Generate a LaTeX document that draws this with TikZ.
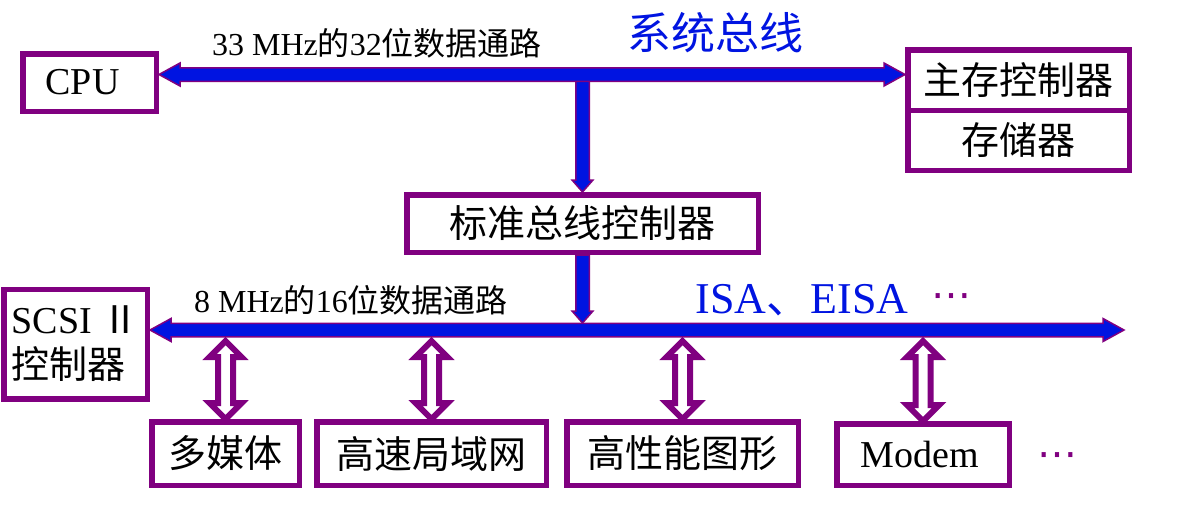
\documentclass[tikz,border=0pt]{standalone}
\usepackage{fontspec}
\setmainfont{Liberation Serif}
\newfontfamily\cjk{Noto Sans CJK SC}
\newfontfamily\dotfont{DejaVu Sans}
\usepackage{tikz}
\usetikzlibrary{calc,positioning,backgrounds}
\definecolor{edgepurple}{RGB}{128,0,128}
\definecolor{busblue}{RGB}{0,20,225}
\newcommand{\zh}[1]{{\cjk #1}}

\begin{document}
\begin{tikzpicture}[x=1pt,y=-1pt,
  unit/.style={draw=edgepurple,line width=5.5pt,fill=white,inner sep=0pt,font=\fontsize{38}{45}\selectfont},
  bus/.style={draw=edgepurple,line width=1.5pt,fill=busblue,line join=miter},
  port/.style={draw=edgepurple,line width=6pt,fill=white,line join=miter},
  buslabel/.style={font=\fontsize{32}{32}\selectfont},
  busname/.style={text=busblue,font=\fontsize{44}{44}\selectfont},
  more/.style={text=edgepurple,font=\dotfont\fontsize{40}{40}\selectfont,inner sep=0pt}]
\useasboundingbox (0,0) rectangle (1185,512);

% units
\node[unit,minimum width=133.5,minimum height=57.5] (cpu) at (89.5,82.5) {CPU\hspace*{14pt}};
\node[unit,minimum width=221.5,minimum height=60.5] (mc) at (1018.5,80) {\zh{主存控制器}};
\node[unit,minimum width=221.5,minimum height=60,below=-5.5pt of mc] (mem) {\zh{存储器}};
\node[unit,minimum width=351.5,minimum height=57.5] (std) at (582.5,223.5) {\zh{标准总线控制器}};
\node[unit,minimum width=143.5,minimum height=109.5,align=left] (scsi) at (75.5,344) {SCSI \zh{Ⅱ}\\\zh{控制器}};
\node[unit,minimum width=147.5,minimum height=63.5] (mm) at (225.5,453.5) {\zh{多媒体}};
\node[unit,minimum width=229.5,minimum height=63.5] (lan) at (431.5,453.5) {\zh{高速局域网}};
\node[unit,minimum width=231.5,minimum height=63.5] (gfx) at (682.5,453.5) {\zh{高性能图形}};
\node[unit,minimum width=172.5,minimum height=61.5] (modem) at (923,454.5) {Modem\hspace*{6pt}};

% bus ends
\coordinate (sysL) at (cpu.east |- 0,74.5);
\coordinate (sysR) at (mc.west |- 0,74.5);
\coordinate (lbusL) at (scsi.east |- 0,330);
\coordinate (lbusR) at (1124,330);
\coordinate (lbusT) at (0,323);
\coordinate (lbusB) at (0,341);

\begin{pgfonlayer}{background}
% device ports
\foreach \dev in {mm,lan,gfx,modem}
  \draw[port] (\dev.north |- lbusB) -- ++(16,16) -- ++(-8.5,0) -- ($(\dev.north)+(7.5,-16)$) -- ++(8.5,0)
    -- (\dev.north) -- ++(-16,-16) -- ++(8.5,0) -- ($(\dev.north |- lbusB)+(-7.5,16)$) -- ++(-8.5,0) -- cycle;

% bridge arrows
\draw[bus] ($(std.north |- sysL)+(-6.75,0)$) -- ($(std.north)+(-6.75,-12)$) -- ++(-3.75,0) -- (std.north)
  -- ++(10.5,-12) -- ++(-3.75,0) -- ($(std.north |- sysL)+(6.75,0)$) -- cycle;
\draw[bus] ($(std.south)+(-6.75,0)$) -- ($(std.south |- lbusT)+(-6.75,-12)$) -- ++(-3.75,0) -- (std.south |- lbusT)
  -- ++(10.5,-12) -- ++(-3.75,0) -- ($(std.south)+(6.75,0)$) -- cycle;

% system bus
\draw[bus] (sysL) -- ++(21,-11.5) -- ++(0,4.75) -- ($(sysR)+(-21,-6.75)$) -- ++(0,-4.75) -- (sysR)
  -- ++(-21,11.5) -- ++(0,-4.75) -- ($(sysL)+(21,6.75)$) -- ++(0,4.75) -- cycle;
% ISA bus
\draw[bus] (lbusL) -- ++(21,-11.5) -- ++(0,4.75) -- ($(lbusR)+(-21,-6.75)$) -- ++(0,-4.75) -- (lbusR)
  -- ++(-21,11.5) -- ++(0,-4.75) -- ($(lbusL)+(21,6.75)$) -- ++(0,4.75) -- cycle;
\end{pgfonlayer}

% labels
\node[buslabel] (syslbl) at (377,43) {33 MHz\zh{的}32\zh{位数据通路}};
\node[busname] (systitle) at (715,33) {\zh{系统总线}};
\node[buslabel] (lowlbl) at (351,300) {8 MHz\zh{的}16\zh{位数据通路}};
\node[busname] (isa) at (802,300) {ISA\zh{、}EISA};
\node[more] (isamore) at (951,301) {⋯};
\node[more] (devmore) at (1057,460) {⋯};
\end{tikzpicture}
\end{document}
